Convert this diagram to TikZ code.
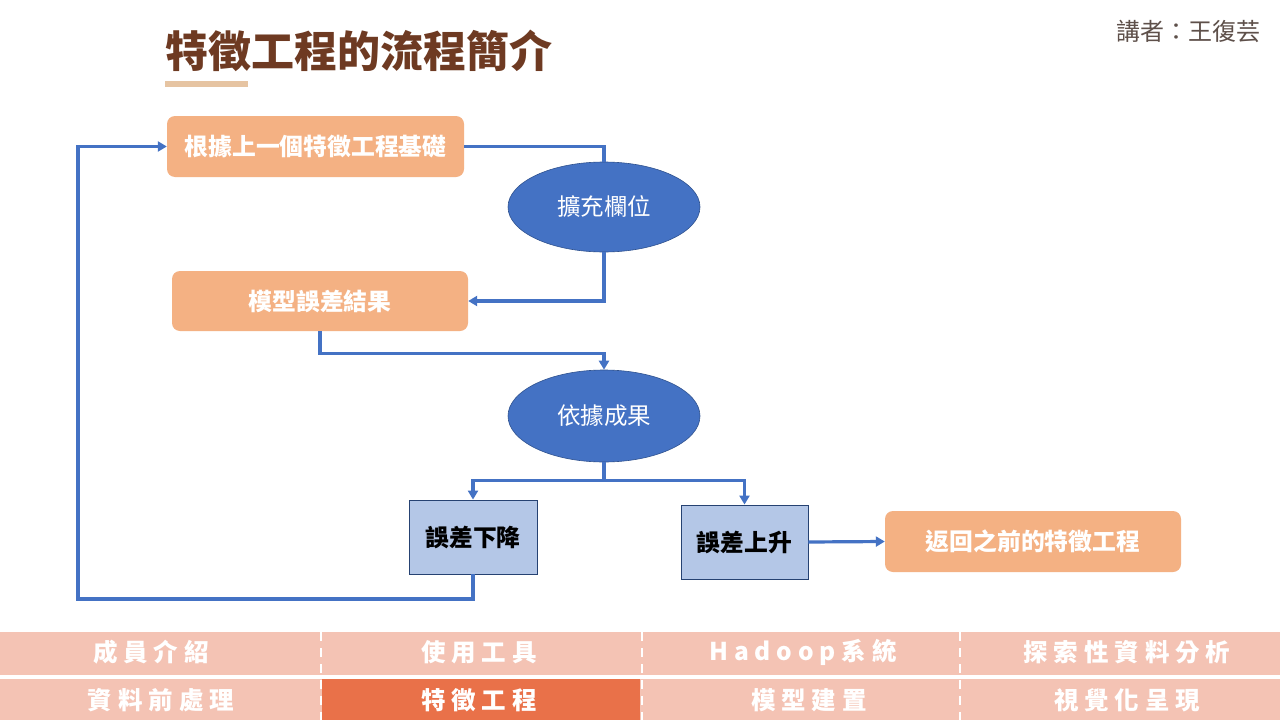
\documentclass[tikz,border=0pt]{standalone}
\usepackage{fontspec}
\setmainfont{Noto Sans CJK TC}
\newfontfamily\barfont{Noto Sans CJK TC}[LetterSpace=24]
\usetikzlibrary{arrows.meta,shapes.geometric}

\definecolor{boxsalmon}{HTML}{F4B183}
\definecolor{ovalblue}{HTML}{4472C4}
\definecolor{paleblue}{HTML}{B4C7E7}
\definecolor{edgeblue}{HTML}{2F528F}
\definecolor{titlebrown}{HTML}{6E3A22}
\definecolor{underlinetan}{HTML}{E6C4A2}
\definecolor{speakergray}{HTML}{5E504A}
\definecolor{barpink}{HTML}{F4C3B4}
\definecolor{barhot}{HTML}{E97149}

\tikzset{
  stepbox/.style={rounded corners=8pt, fill=boxsalmon, text=white, inner sep=0pt,
    font=\fontsize{23.8}{28}\selectfont\bfseries, minimum height=61pt},
  oval/.style={ellipse, fill=ovalblue, draw=edgeblue, line width=0.6pt, text=white, inner sep=0pt,
    minimum width=192pt, minimum height=90pt, font=\fontsize{23.5}{28}\selectfont},
  outcome/.style={rectangle, fill=paleblue, draw=edgeblue!80!black, line width=0.9pt, inner sep=0pt,
    minimum width=128pt, minimum height=74pt, font=\fontsize{23.8}{28}\selectfont\bfseries},
  conn/.style={draw=ovalblue, line width=3.2pt},
  arr/.style={-{Triangle[length=9pt,width=10pt]}},
  barlabel/.style={text=white, inner sep=0pt, font=\fontsize{24.5}{28}\barfont\bfseries},
  divider/.style={draw=white, line width=2.6pt, dash pattern=on 9pt off 7pt}
}

\begin{document}
\begin{tikzpicture}[x=1pt, y=-1pt]
  \useasboundingbox[fill=white] (0,0) rectangle (1280,720);

  % heading and speaker
  \node[anchor=west, text=titlebrown, inner sep=0pt,
        font=\fontsize{43}{48}\selectfont\bfseries] (title) at (165,51) {特徵工程的流程簡介};
  \fill[underlinetan] (165,81) rectangle (248,87);
  \node[anchor=east, text=speakergray, inner sep=0pt,
        font=\fontsize{24}{28}\selectfont] (speaker) at (1261,31) {講者：王復芸};

  % flow chart
  \node[stepbox, minimum width=297pt] (base) at (315.5,146.5) {根據上一個特徵工程基礎};
  \node[oval] (expand) at (604,207) {擴充欄位};
  \node[stepbox, minimum width=296pt, minimum height=60pt] (result) at (320,301) {模型誤差結果};
  \node[oval, minimum height=92pt] (judge) at (604,416) {依據成果};
  \node[outcome] (down) at (473,537) {誤差下降};
  \node[outcome, minimum width=127pt] (up) at (744.5,542) {誤差上升};
  \node[stepbox, minimum width=296pt] (back) at (1033,541.5) {返回之前的特徵工程};
  \coordinate (loop) at (78,599);

  \draw[conn] (base.east) -| (expand.north);
  \draw[conn, arr] (expand.south) |- (result.east);
  \draw[conn, arr] (result.south) -- ++(0,22) -| (judge.north);
  \draw[conn, arr] (judge.south) -- ++(0,18) -| (down.north);
  \draw[conn, arr] (judge.south) -- ++(0,18) -| (up.north);
  \draw[conn, arr] (up.east) -- (back.west);
  \draw[conn, arr] (down.south) |- (loop) |- (base.west);

  % section navigation bar
  \fill[barpink] (0,632) rectangle (1280,675);
  \fill[barpink] (0,679) rectangle (1280,720);
  \fill[barhot] (322,679) rectangle (640,720);
  \draw[divider] (321,632) -- (321,720);
  \draw[divider] (642,632) -- (642,720);
  \draw[divider] (960,632) -- (960,720);

  \node[barlabel] (navA) at (151,652) {成員介紹};
  \node[barlabel] (navB) at (479,652) {使用工具};
  \node[barlabel] (navC) at (803,652) {Hadoop系統};
  \node[barlabel] (navD) at (1127,652) {探索性資料分析};
  \node[barlabel] (navE) at (161,700) {資料前處理};
  \node[barlabel] (navF) at (479,700) {特徵工程};
  \node[barlabel] (navG) at (809,700) {模型建置};
  \node[barlabel] (navH) at (1127,700) {視覺化呈現};
\end{tikzpicture}
\end{document}
